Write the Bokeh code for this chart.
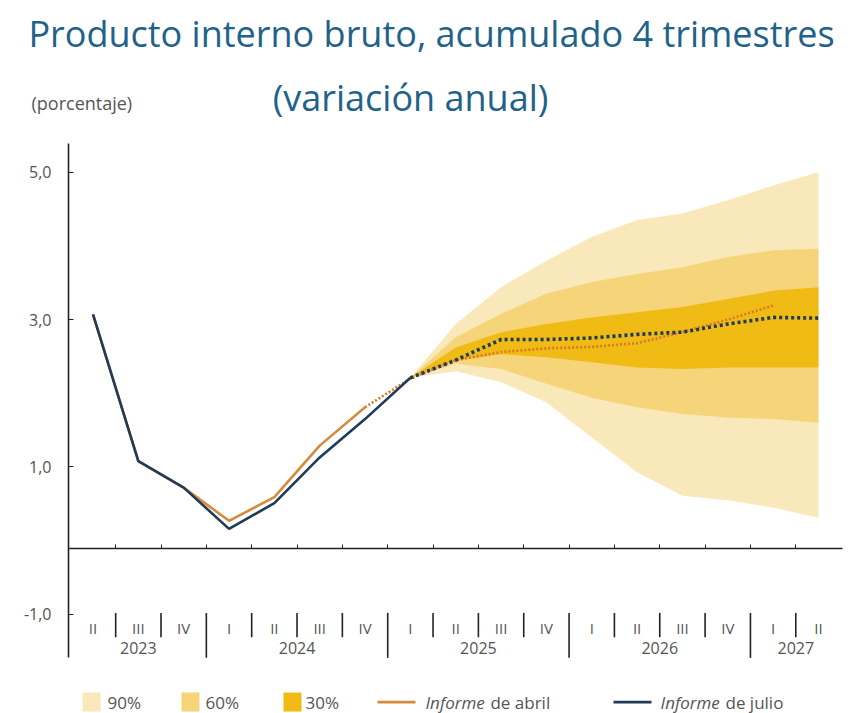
from bokeh.plotting import figure
from bokeh.models import FixedTicker, LinearAxis
from bokeh.core.properties import value
from bokeh.embed import file_html
from bokeh.resources import INLINE

# ---------------- data ----------------
quarters = ["II", "III", "IV", "I", "II", "III", "IV", "I", "II", "III", "IV",
            "I", "II", "III", "IV", "I", "II"]
quarter_years = ["2023"] * 3 + ["2024"] * 4 + ["2025"] * 4 + ["2026"] * 4 + ["2027"] * 2
years = ["2023", "2024", "2025", "2026", "2027"]

# Informe de julio (history, then projection)
julio_hist = [3.07, 1.08, 0.72, 0.16, 0.51, 1.13, 1.65, 2.21]
julio_proj = [2.21, 2.45, 2.73, 2.73, 2.75, 2.80, 2.83, 2.94, 3.03, 3.02]
# Informe de abril
abril_hist = [3.07, 1.08, 0.72, 0.27, 0.59, 1.29, 1.81]
abril_proj = [1.81, 2.20, 2.45, 2.56, 2.61, 2.63, 2.68, 2.83, 3.00, 3.19]

# fan chart bands (2025-I .. 2027-II)
fan90_hi = [2.21, 2.94, 3.44, 3.80, 4.12, 4.35, 4.44, 4.62, 4.82, 5.00]
fan90_lo = [2.21, 2.30, 2.15, 1.88, 1.40, 0.93, 0.61, 0.55, 0.45, 0.31]
fan60_hi = [2.21, 2.76, 3.08, 3.35, 3.51, 3.62, 3.71, 3.85, 3.94, 3.96]
fan60_lo = [2.21, 2.40, 2.33, 2.13, 1.94, 1.81, 1.72, 1.67, 1.65, 1.60]
fan30_hi = [2.21, 2.62, 2.83, 2.94, 3.03, 3.10, 3.17, 3.28, 3.39, 3.44]
fan30_lo = [2.21, 2.44, 2.53, 2.49, 2.42, 2.35, 2.33, 2.35, 2.35, 2.35]

y_ticks = [-1, 1, 3, 5]
y_tick_labels = ["-1,0", "1,0", "3,0", "5,0"]

band_labels = ["90%", "60%", "30%"]
title_1 = "Producto interno bruto, acumulado 4 trimestres"
title_2 = "(variación anual)"
unit_label = "(porcentaje)"

# ---------------- styles ----------------
FONT = "Open Sans"
C90, C60, C30 = "#f9e8b9", "#f6d57a", "#efbb14"
NAVY = "#1f3b57"
ORANGE = "#d88a3c"
ORANGE_DOT = "#d9782a"
TITLE_C = "#21628a"
GREY = "#555555"
AX = "#222222"

n = len(quarters)
idx = list(range(n))
j_proj_x = idx[len(julio_hist) - 1: len(julio_hist) - 1 + len(julio_proj)]
a_proj_x = idx[len(abril_hist) - 1: len(abril_hist) - 1 + len(abril_proj)]
fan_x = idx[n - len(fan90_hi):]

X_LEFT, X_RIGHT = -0.54, 16.53      # extent of the drawn axes
Y_BOTTOM, Y_TOP = -1.59, 5.39

p = figure(width=850, height=713, x_range=(-2.040, 16.707), y_range=(-2.345, 7.33),
           x_axis_location=None, output_backend="svg", toolbar_location=None,
           min_border_left=0, min_border_right=0, min_border_top=0, min_border_bottom=0)
p.outline_line_color = None
p.xgrid.visible = False
p.ygrid.visible = False

# y axis, drawn at the left edge of the chart area
ax = p.yaxis[0]
ax.fixed_location = X_LEFT
ax.ticker = FixedTicker(ticks=y_ticks)
ax.major_label_overrides = {tk: lb for tk, lb in zip(y_ticks, y_tick_labels)}
ax.bounds = (Y_BOTTOM, Y_TOP)
ax.minor_tick_line_color = None
ax.major_tick_in = 5
ax.major_tick_out = 0
ax.major_tick_line_color = AX
ax.axis_line_color = AX
ax.axis_line_width = 1.6
ax.major_label_standoff = 17
ax.major_label_text_font = FONT
ax.major_label_text_font_size = "16px"
ax.major_label_text_color = GREY

# fan
p.varea(x=fan_x, y1=fan90_lo, y2=fan90_hi, fill_color=C90)
p.varea(x=fan_x, y1=fan60_lo, y2=fan60_hi, fill_color=C60)
p.varea(x=fan_x, y1=fan30_lo, y2=fan30_hi, fill_color=C30)

# horizontal base axis with small quarter ticks
bounds_x = [i + 0.5 for i in idx[:-1]]
xa = LinearAxis(fixed_location=-0.1, bounds=(X_LEFT, X_RIGHT),
                ticker=FixedTicker(ticks=bounds_x, minor_ticks=[]))
xa.major_label_text_color = None
xa.major_tick_in = 4
xa.major_tick_out = 0
xa.major_tick_line_color = AX
xa.minor_tick_line_color = None
xa.axis_line_color = AX
xa.axis_line_width = 1.6
p.add_layout(xa, "below")

# lines
p.line(idx[:len(abril_hist)], abril_hist, line_color=ORANGE, line_width=2.6)
p.line(a_proj_x, abril_proj, line_color=ORANGE_DOT, line_width=2.6, line_dash="2 2")
p.line(idx[:len(julio_hist)], julio_hist, line_color=NAVY, line_width=2.6)
p.line(j_proj_x, julio_proj, line_color=NAVY, line_width=3.6, line_dash="3 3")

# x category labels
p.text(x=idx, y=[-1.19] * n, text=quarters, text_font=value(FONT), text_font_size="15px",
       text_align="center", text_baseline="middle", text_color=GREY)
year_x = [sum(i for i in idx if quarter_years[i] == y) / quarter_years.count(y) for y in years]
p.text(x=year_x, y=[-1.46] * len(years), text=years, text_font=value(FONT),
       text_font_size="16px", text_align="center", text_baseline="middle", text_color=GREY)
short_x = [b for i, b in enumerate(bounds_x) if quarter_years[i] == quarter_years[i + 1]]
long_x = [b for i, b in enumerate(bounds_x) if quarter_years[i] != quarter_years[i + 1]]
p.segment(x0=short_x, y0=[-0.98] * len(short_x), x1=short_x, y1=[-1.31] * len(short_x),
          line_color=AX, line_width=1.6)
p.segment(x0=long_x, y0=[-0.98] * len(long_x), x1=long_x, y1=[Y_BOTTOM] * len(long_x),
          line_color=AX, line_width=1.6)

# legend
ly = -2.19
sw_x = [-0.033, 2.150, 4.400]
p.rect(x=sw_x, y=[ly] * 3, width=18, height=19, width_units="screen", height_units="screen",
       fill_color=[C90, C60, C30], line_color=None)
p.text(x=[0.320, 2.481, 4.687], y=[ly] * 3, text=band_labels, text_font=value(FONT),
       text_font_size="17px", text_baseline="middle", text_color=GREY)
p.segment(x0=[6.275, 11.480], y0=[ly, ly], x1=[7.113, 12.318], y1=[ly, ly],
          line_color=[ORANGE, NAVY], line_width=2.6)
p.text(x=[7.333, 12.517], y=[ly, ly], text=["Informe", "Informe"], text_font=value(FONT),
       text_font_size="17px", text_font_style="italic", text_baseline="middle",
       text_color=GREY)
p.text(x=[8.766, 13.950], y=[ly, ly], text=["de abril", "de julio"], text_font=value(FONT),
       text_font_size="17px", text_baseline="middle", text_color=GREY)

# titles
p.text(x=[7.466], y=[6.882], text=[title_1], text_font=value(FONT), text_font_size="36px",
       text_align="center", text_baseline="middle", text_color=TITLE_C)
p.text(x=[7.003], y=[6.014], text=[title_2], text_font=value(FONT), text_font_size="36px",
       text_align="center", text_baseline="middle", text_color=TITLE_C)
p.text(x=[-1.356], y=[5.933], text=[unit_label], text_font=value(FONT), text_font_size="18px",
       text_align="left", text_baseline="middle", text_color=GREY)

open("out.html", "w").write(file_html(p, INLINE))
